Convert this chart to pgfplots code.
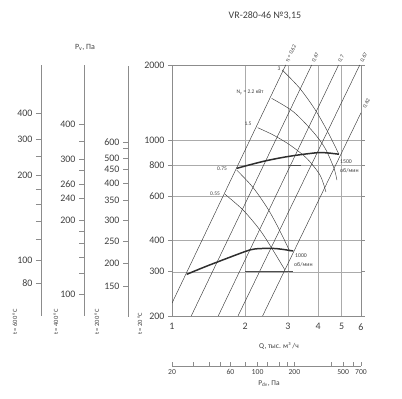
\documentclass[border=0pt]{standalone}
\usepackage{pgfplots}
\pgfplotsset{compat=1.18}
\usepackage{fontspec}
\setmainfont{Carlito}
\definecolor{txt}{HTML}{404040}
\definecolor{gridc}{HTML}{ABABAB}
\definecolor{axc}{HTML}{8C8C8C}
\definecolor{curve}{HTML}{3A3A3A}
\definecolor{fan}{HTML}{2E2E2E}
\begin{document}
\begin{tikzpicture}[x=1bp,y=1bp]
\path[use as bounding box] (0,0) rectangle (402,399);

% ---------- main chart ----------
\begin{axis}[at={(172bp,83bp)}, anchor=south west, scale only axis,
  width=189bp, height=251bp,
  xmode=log, ymode=log, xmin=1, xmax=6, ymin=200, ymax=2000,
  xtick={1,2,3,4,5,6}, xticklabels={1,2,3,4,5,6},
  ytick={200,300,400,600,800,1000,2000},
  yticklabels={200,300,400,600,800,1000,2000},
  grid=major, major grid style={gridc, line width=0.55pt},
  axis line style={axc, line width=0.6pt},
  tick align=outside, major tick length=4bp,
  xtick style={draw=none}, ytick style={axc, line width=0.6pt},
  ticklabel style={font=\fontsize{10}{12}\selectfont, text=txt},
  clip=true]
% efficiency lines
\addplot[curve, line width=0.45pt] coordinates {(1,225) (2.94,2000)};
\addplot[curve, line width=0.45pt] coordinates {(1.20,200) (3.76,2000)};
\addplot[curve, line width=0.45pt] coordinates {(1.55,200) (4.85,2000)};
\addplot[curve, line width=0.45pt] coordinates {(1.87,200) (5.93,2000)};
\addplot[curve, line width=0.45pt] coordinates {(2.36,200) (6,1290)};
% power lines
\addplot[curve, line width=0.45pt, smooth] coordinates {(2.843,1910) (3.341,1624) (3.884,1328) (4.372,1086) (4.867,882)};
\addplot[curve, line width=0.45pt, smooth] coordinates {(2.572,1473) (3.157,1303) (3.804,1085) (4.262,934) (4.642,777) (4.775,696)};
\addplot[curve, line width=0.45pt, smooth] coordinates {(2.253,1125) (2.612,1052) (3.059,960) (3.584,850) (4.066,729) (4.302,624)};
\addplot[curve, line width=0.45pt, smooth] coordinates {(1.846,763) (2.148,653) (2.474,537) (2.764,442) (3.059,361)};
\addplot[curve, line width=0.45pt, smooth] coordinates {(1.652,611) (1.960,529) (2.302,440) (2.604,366) (2.917,305)};
% dark short segments
\addplot[fan!85, line width=0.65pt] coordinates {(3.0,800) (3.4,800)};
\addplot[fan!85, line width=0.65pt] coordinates {(2.0,300) (3.15,300)};
\addplot[fan!85, line width=0.65pt] coordinates {(3.0,200) (3.43,200)};
% fan curves
\addplot[fan, line width=1.5pt, smooth] coordinates {(1.846,775) (2.128,804) (2.414,829) (2.828,855) (3.310,876) (4.000,895) (4.398,892) (4.867,882)};
\addplot[fan, line width=1.5pt, smooth] coordinates {(1.149,293) (1.367,314) (1.652,337) (1.997,361) (2.195,370) (2.572,372) (2.828,369) (3.157,363)};
\end{axis}

% ---------- left scales ----------
\begin{axis}[at={(41bp,83bp)}, anchor=south west, scale only axis, width=1bp, height=251bp,
    xmin=0, xmax=1, ymode=log, ymin=200, ymax=2000, hide x axis, axis y line*=left,
    y axis line style={axc, line width=0.6pt}, tick align=outside, major tick length=5bp,
    ytick style={axc, line width=0.6pt},
    yticklabel style={font=\fontsize{10}{12}\selectfont, text=txt},
  ytick={271,334,405,478,559,641,729,868,1014,1288},
  yticklabels={80,100,,,,,200,,300,400}]
\end{axis}
\begin{axis}[at={(84bp,83bp)}, anchor=south west, scale only axis, width=1bp, height=251bp,
    xmin=0, xmax=1, ymode=log, ymin=200, ymax=2000, hide x axis, axis y line*=left,
    y axis line style={axc, line width=0.6pt}, tick align=outside, major tick length=5bp,
    ytick style={axc, line width=0.6pt},
    yticklabel style={font=\fontsize{10}{12}\selectfont, text=txt},
  ytick={245,297,344,391,436,482,590,671,763,844,996,1164},
  yticklabels={100,,,,,200,240,260,,300,,400}]
\end{axis}
\begin{axis}[at={(128bp,82bp)}, anchor=south west, scale only axis, width=1bp, height=251bp,
    xmin=0, xmax=1, ymode=log, ymin=200, ymax=2000, hide x axis, axis y line*=left,
    y axis line style={axc, line width=0.6pt}, tick align=outside, major tick length=5bp,
    ytick style={axc, line width=0.6pt},
    yticklabel style={font=\fontsize{10}{12}\selectfont, text=txt},
  ytick={266,328,402,487,585,684,777,860,943,996},
  yticklabels={150,200,250,300,350,400,450,500,,600}]
\end{axis}

% ---------- dynamic pressure scale ----------
\begin{axis}[at={(172bp,33bp)}, anchor=south west, scale only axis,
  width=189bp, height=1bp, xmode=log, xmin=20, xmax=700, ymin=0, ymax=1,
  hide y axis, axis x line*=bottom,
  x axis line style={axc, line width=0.6pt},
  tick align=inside, major tick length=4bp, xtick style={axc, line width=0.6pt},
  xtick={20,30,40,50,60,80,100,120,150,175,200,400,500,600,700},
  xticklabels={20,,,,60,,100,,,,200,,500,,700},
  xticklabel style={font=\fontsize{7.7}{9}\selectfont, text=txt}]
\end{axis}

% ---------- texts ----------
\begin{scope}[every node/.style={text=txt, inner sep=0pt}]
\node[font=\fontsize{10}{12}\selectfont] at (265,383) {VR-280-46 №3,15};
\node[font=\fontsize{8}{10}\selectfont] at (85,352) {P\textsubscript{v}, Па};
\node[font=\fontsize{7.5}{9}\selectfont] at (279,53) {Q, тыс. м³ /ч};
\node[font=\fontsize{7.5}{9}\selectfont] at (269,15) {P\textsubscript{dv}, Па};
\foreach \xx/\tt in {15/600, 56/400, 97/200, 140/20}
  \node[rotate=90, anchor=west, font=\fontsize{6.5}{8}\selectfont] at (\xx,64) {t = \tt\ °C};
% power labels
\node[font=\fontsize{5.5}{7}\selectfont] at (279,330) {3};
\node[font=\fontsize{5.5}{7}\selectfont] at (250,306) {N\textsubscript{у} = 2.2 кВт};
\node[font=\fontsize{5.5}{7}\selectfont] at (248,275) {1.5};
\node[font=\fontsize{5.5}{7}\selectfont] at (222,230) {0.75};
\node[font=\fontsize{5.5}{7}\selectfont] at (215,205) {0.55};
% speed labels
\node[anchor=west, font=\fontsize{5.8}{7}\selectfont] at (340,237) {1500};
\node[anchor=west, font=\fontsize{5.8}{7}\selectfont] at (340,228) {об/мин};
\node[anchor=west, font=\fontsize{5.8}{7}\selectfont] at (295,143) {1000};
\node[anchor=west, font=\fontsize{5.8}{7}\selectfont] at (294,134) {об/мин};
% efficiency labels
\node[rotate=64, anchor=west, font=\fontsize{5.6}{7}\selectfont] at (287,337) {η = 0.62};
\node[rotate=64, anchor=west, font=\fontsize{5.6}{7}\selectfont] at (313,337) {0.67};
\node[rotate=64, anchor=west, font=\fontsize{5.6}{7}\selectfont] at (339.5,337) {0.7};
\node[rotate=64, anchor=west, font=\fontsize{5.6}{7}\selectfont] at (361.5,337) {0.67};
\node[rotate=64, anchor=west, font=\fontsize{5.6}{7}\selectfont] at (364,291) {0.62};
\end{scope}
\end{tikzpicture}
\end{document}
